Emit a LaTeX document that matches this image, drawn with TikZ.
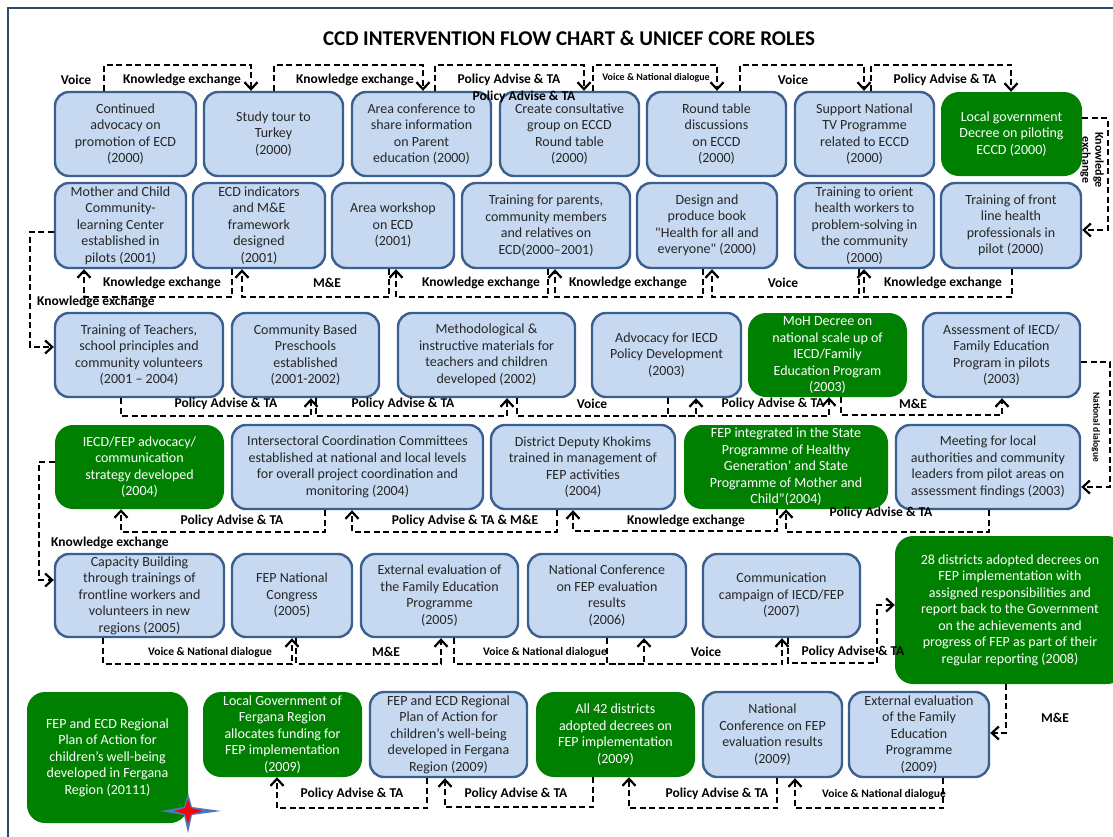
\documentclass[tikz,border=0pt]{standalone}
\usepackage{fontspec}
\setmainfont{Carlito}
\usetikzlibrary{arrows.meta}

\definecolor{boxblue}{HTML}{C6D9F1}
\definecolor{boxedge}{HTML}{3B5F8E}
\definecolor{leafgreen}{HTML}{008000}
\definecolor{frameblue}{HTML}{2E4B6E}
\definecolor{starblue}{HTML}{4A78C0}

\begin{document}
\begin{tikzpicture}[x=1pt, y=-1pt,
    box/.style={rounded corners=14pt, align=center, inner sep=1pt,
      font=\fontsize{14}{16.5}\selectfont},
    bluebox/.style={box, draw=boxedge, line width=2.4pt, fill=boxblue, text=black!85},
    greenbox/.style={box, fill=leafgreen, text=white, rounded corners=18pt},
    wh/.style 2 args={minimum width=#1pt, minimum height=#2pt},
    lbl/.style={font=\fontsize{13.5}{15}\selectfont\bfseries, inner sep=0pt},
    smalllbl/.style={font=\fontsize{11.5}{13}\selectfont\bfseries, inner sep=0pt},
    link/.style={line width=2.2pt, dash pattern=on 6pt off 3.5pt,
      -{Straight Barb[length=7pt,width=13pt]}}]

    \useasboundingbox (0,0) rectangle (1113,836);
    \draw[frameblue, line width=1.8pt] (8,8) rectangle (1150,860);

    \node[font=\fontsize{21}{25}\selectfont\bfseries] (title) at (569,38)
      {CCD INTERVENTION FLOW CHART \& UNICEF CORE ROLES};

    % 2000
    \node[bluebox, wh={141}{84}] (b1) at (125.5,134) {Continued\\advocacy on\\promotion of ECD\\(2000)};
    \node[bluebox, wh={139}{84}] (b2) at (273.5,134) {Study tour to\\Turkey\\(2000)};
    \node[bluebox, wh={139}{84}] (b3) at (421.5,134) {Area conference to\\share information\\on Parent\\education (2000)};
    \node[bluebox, wh={139}{84}] (b4) at (569.5,134) {Create consultative\\group on ECCD\\Round table\\(2000)};
    \node[bluebox, wh={139}{84}] (b5) at (716.5,134) {Round table\\discussions\\on ECCD\\(2000)};
    \node[bluebox, wh={139}{84}] (b6) at (864.5,134) {Support National\\TV Programme\\related to ECCD\\(2000)};
    \node[greenbox, wh={141}{84}] (b7) at (1011.5,134) {Local government\\Decree on piloting\\ECCD (2000)};

    % 2000-2001
    \node[bluebox, wh={131}{85}] (c1) at (120.5,225.5) {Mother and Child\\Community-\\learning Center\\established in\\pilots (2001)};
    \node[bluebox, wh={132}{85}] (c2) at (259,225.5) {ECD indicators\\and M\&E\\framework\\designed\\(2001)};
    \node[bluebox, wh={122}{85}] (c3) at (393,225.5) {Area workshop\\on ECD\\(2001)};
    \node[bluebox, wh={168}{85}] (c4) at (546,225.5) {Training for parents,\\community members\\and relatives on\\ECD(2000--2001)};
    \node[bluebox, wh={140}{85}] (c5) at (707,225.5) {Design and\\produce book\\\textquotedbl Health for all and\\everyone\textquotedbl\ (2000)};
    \node[bluebox, wh={139}{85}] (c6) at (864.5,225.5) {Training to orient\\health workers to\\problem-solving in\\the community\\(2000)};
    \node[bluebox, wh={140}{85}] (c7) at (1011,225.5) {Training of front\\line health\\professionals in\\pilot (2000)};

    % 2001-2003
    \node[bluebox, wh={168}{84}] (d1) at (139,355) {Training of Teachers,\\school principles and\\community volunteers\\(2001 -- 2004)};
    \node[bluebox, wh={147}{84}] (d2) at (305.5,355) {Community Based\\Preschools\\established\\(2001-2002)};
    \node[bluebox, wh={177}{84}] (d3) at (486.5,355) {Methodological \&\\instructive materials for\\teachers and children\\developed (2002)};
    \node[bluebox, wh={149}{84}] (d4) at (666.5,355) {Advocacy for IECD\\Policy Development\\(2003)};
    \node[greenbox, wh={159}{84}] (d5) at (827.5,355) {MoH Decree on\\national scale up of\\IECD/Family\\Education Program\\(2003)};
    \node[bluebox, wh={157}{84}] (d6) at (1001.5,355) {Assessment of IECD/\\Family Education\\Program in pilots\\(2003)};

    % 2003-2004
    \node[greenbox, wh={169}{84}] (e1) at (139.5,467) {IECD/FEP advocacy/\\communication\\strategy developed\\(2004)};
    \node[bluebox, wh={251}{84}] (e2) at (357.5,467) {Intersectoral Coordination Committees\\established at national and local levels\\for overall project coordination and\\monitoring (2004)};
    \node[bluebox, wh={184}{84}] (e3) at (583,467) {District Deputy Khokims\\trained in management of\\FEP activities\\(2004)};
    \node[greenbox, wh={204}{84}] (e4) at (786,467) {FEP integrated in the State\\Programme of Healthy\\Generation’ and State\\Programme of Mother and\\Child”(2004)};
    \node[bluebox, wh={184}{84}] (e5) at (988,467) {Meeting for local\\authorities and community\\leaders from pilot areas on\\assessment findings (2003)};

    % 2005-2008
    \node[bluebox, wh={169}{83}] (f1) at (139.5,595.5) {Capacity Building\\through trainings of\\frontline workers and\\volunteers in new\\regions (2005)};
    \node[bluebox, wh={120}{83}] (f2) at (292,595.5) {FEP National\\Congress\\(2005)};
    \node[bluebox, wh={157}{83}] (f3) at (439.5,595.5) {External evaluation of\\the Family Education\\Programme\\(2005)};
    \node[bluebox, wh={158}{83}] (f4) at (607,595.5) {National Conference\\on FEP evaluation\\results\\(2006)};
    \node[bluebox, wh={157}{83}] (f5) at (781.5,595.5) {Communication\\campaign of IECD/FEP\\(2007)};
    \node[greenbox, wh={230}{148}] (f6) at (1010,610) {28 districts adopted decrees on\\FEP implementation with\\assigned responsibilities and\\report back to the Government\\on the achievements and\\progress of FEP as part of their\\regular reporting (2008)};

    % 2009-2011
    \node[greenbox, wh={161}{131}] (g1) at (107.5,757.5) {FEP and ECD Regional\\Plan of Action for\\children’s well-being\\developed in Fergana\\Region (20111)};
    \node[greenbox, wh={159}{85}] (g2) at (282.5,734.5) {Local Government of\\Fergana Region\\allocates funding for\\FEP implementation\\(2009)};
    \node[bluebox, wh={157}{85}] (g3) at (448.5,734.5) {FEP and ECD Regional\\Plan of Action for\\children’s well-being\\developed in Fergana\\Region (2009)};
    \node[greenbox, wh={159}{85}] (g4) at (615.5,734.5) {All 42 districts\\adopted decrees on\\FEP implementation\\(2009)};
    \node[bluebox, wh={139}{85}] (g5) at (772.5,734.5) {National\\Conference on FEP\\evaluation results\\(2009)};
    \node[bluebox, wh={140}{85}] (g6) at (919,734.5) {External evaluation\\of the Family\\Education\\Programme\\(2009)};

    % links over the top, left to right
    \foreach \a/\xa/\b/\xb in {b1/104/b2/251, b2/274/b3/423, b3/435/b4/584,
                               b4/593/b5/717, b5/740/b6/864, b6/871/b7/1011}
      \draw[link] (\xa,0 |- \a.north) -- ++(0,-26) -| (\xb,0 |- \b.north);
    % links underneath
    \foreach \a/\xa/\b/\xb in {c2/232/c1/84, c3/389/c2/242, c4/548/c3/396,
                               c5/703/c4/555, c6/859/c5/712, c7/1012/c6/864}
      \draw[link] (\xa,0 |- \a.south) -- ++(0,28) -| (\xb,0 |- \b.south);
    \foreach \a/\xa/\b/\xb in {d1/121/d2/311, d2/316/d3/507, d3/517/d4/696,
                               d4/668/d5/829, d5/841/d6/1002}
      \draw[link] (\xa,0 |- \a.south) -- ++(0,18) -| (\xb,0 |- \b.south);
    \foreach \a/\xa/\b/\xb in {e2/325/e1/121, e3/557/e2/352, e4/777/e3/573,
                               e5/989/e4/786}
      \draw[link] (\xa,0 |- \a.south) -- ++(0,22) -| (\xb,0 |- \b.south);
    \foreach \a/\xa/\b/\xb in {f1/103/f2/292, f2/296/f3/441, f3/454/f4/644,
                               f4/607/f5/782}
      \draw[link] (\xa,0 |- \a.south) -- ++(0,26) -| (\xb,0 |- \b.south);
    \foreach \a/\xa/\b/\xb in {g3/427/g2/277, g4/593/g3/445, g5/777/g4/629,
                               g6/943/g5/795}
      \draw[link] (\xa,0 |- \a.south) -- ++(0,30) -| (\xb,0 |- \b.south);

    % turns between the rows
    \draw[link] (b7.east |- 0,118) -| (1108,230) -- (c7.east |- 0,230);
    \draw[link] (c1.west |- 0,232) -| (30,347) -- (d1.west |- 0,347);
    \draw[link] (d6.east |- 0,362) -| (1110,487) -- (e5.east |- 0,487);
    \draw[link] (e1.west |- 0,462) -| (39,580) -- (f1.west |- 0,580);
    \draw[link] (788,0 |- f5.south) -- (788,663) -- (877,663) |- (f6.west |- 0,605);
    \draw[link] (1006,0 |- f6.south) |- (g6.east |- 0,733);

    % roles
    \node[lbl] (tv1) at (76,80) {Voice};
    \node[lbl] (tk1) at (182,80) {Knowledge exchange};
    \node[lbl] (tk2) at (355,80) {Knowledge exchange};
    \node[lbl] (tp1) at (509,80) {Policy Advise \& TA};
    \node[lbl] (tp2) at (524,97) {Policy Advise \& TA};
    \node[lbl, font=\fontsize{10}{12}\selectfont\bfseries] (tn1) at (656,78) {Voice \& National dialogue};
    \node[lbl] (tv2) at (793,80) {Voice};
    \node[lbl] (tp3) at (945,80) {Policy Advise \& TA};
    \node[lbl, rotate=-90, align=center, font=\fontsize{12}{13}\selectfont\bfseries] (rk1) at (1092,160) {Knowledge\\exchange};

    \node[lbl] (ck1) at (162,283) {Knowledge exchange};
    \node[lbl] (cm1) at (327,283) {M\&E};
    \node[lbl] (ck2) at (481,283) {Knowledge exchange};
    \node[lbl] (ck3) at (628,283) {Knowledge exchange};
    \node[lbl] (cv1) at (783,283) {Voice};
    \node[lbl] (ck4) at (943,283) {Knowledge exchange};
    \node[lbl] (lk1) at (96,302) {Knowledge exchange};

    \node[lbl] (dp1) at (226,404) {Policy Advise \& TA};
    \node[lbl] (dp2) at (403,404) {Policy Advise \& TA};
    \node[lbl] (dv1) at (592,404) {Voice};
    \node[lbl] (dp3) at (773,404) {Policy Advise \& TA};
    \node[lbl] (dm1) at (913,404) {M\&E};
    \node[lbl, rotate=-90, font=\fontsize{9.5}{11}\selectfont\bfseries] (rn1) at (1096,427) {National dialogue};

    \node[lbl] (ep1) at (232,521) {Policy Advise \& TA};
    \node[lbl] (ep2) at (465,521) {Policy Advise \& TA \& M\&E};
    \node[lbl] (ek1) at (686,521) {Knowledge exchange};
    \node[lbl] (ep3) at (881,513) {Policy Advise \& TA};
    \node[lbl] (lk2) at (110,543) {Knowledge exchange};

    \node[smalllbl] (fn1) at (210,652) {Voice \& National dialogue};
    \node[lbl] (fm1) at (386,652) {M\&E};
    \node[smalllbl] (fn2) at (545,652) {Voice \& National dialogue};
    \node[lbl] (fv1) at (706,652) {Voice};
    \node[lbl] (fp1) at (853,652) {Policy Advise \& TA};
    \node[lbl] (fm2) at (1055,718) {M\&E};

    \node[lbl] (gp1) at (352,794) {Policy Advise \& TA};
    \node[lbl] (gp2) at (516,794) {Policy Advise \& TA};
    \node[lbl] (gp3) at (717,794) {Policy Advise \& TA};
    \node[smalllbl] (gn1) at (884,794) {Voice \& National dialogue};

    % star on the corner
    \fill[starblue] (160,811) -- (184,807) -- (188,793) -- (192,807) -- (221,811)
      -- (192,815) -- (188,833) -- (184,815) -- cycle;
    \fill[red] (174,811) -- (185,808) -- (188,799) -- (191,808) -- (203,811)
      -- (191,814) -- (188,824) -- (185,814) -- cycle;
\end{tikzpicture}
\end{document}
